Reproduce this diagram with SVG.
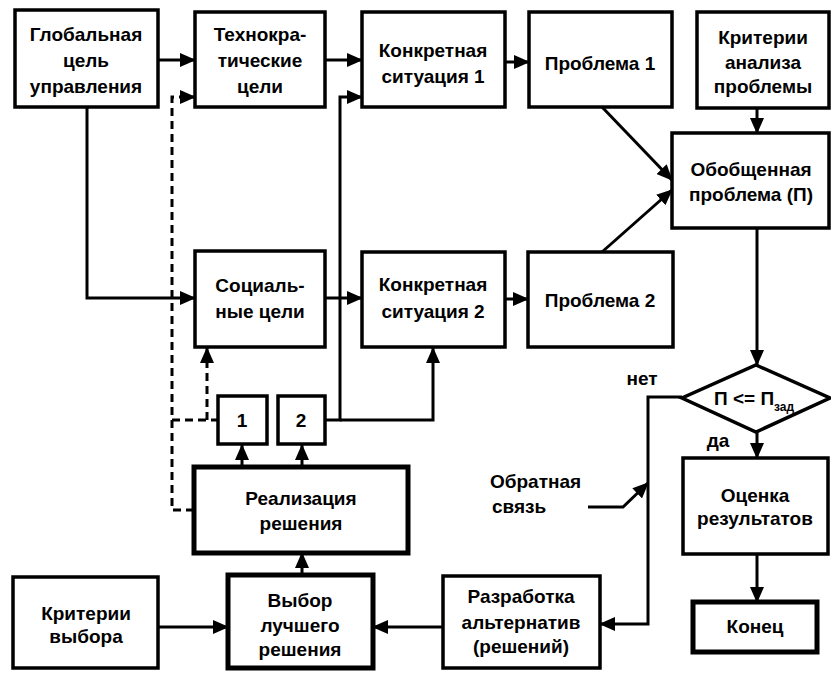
<svg xmlns="http://www.w3.org/2000/svg" width="831" height="673" viewBox="0 0 831 673">
<defs>
<marker id="ah" markerUnits="userSpaceOnUse" markerWidth="16" markerHeight="14" refX="15" refY="7" orient="auto">
<path d="M0,0 L16,7 L0,14 Z" fill="#000"/>
</marker>
<style>
.box{fill:#fff;stroke:#000;stroke-width:3.5}
.tbox{fill:#fff;stroke:#000;stroke-width:5}
.ln{fill:none;stroke:#000;stroke-width:3}
.ar{fill:none;stroke:#000;stroke-width:3;marker-end:url(#ah)}
.ds{fill:none;stroke:#000;stroke-width:3;stroke-dasharray:8 5}
.dsa{fill:none;stroke:#000;stroke-width:3;stroke-dasharray:8 5;marker-end:url(#ah)}
text{font-family:"Liberation Sans",Arial,sans-serif;font-weight:bold;font-size:19px;fill:#000;text-anchor:middle}
.l{text-anchor:start}
</style>
</defs>
<rect width="831" height="673" fill="#fff"/>
<g id="connectors">
<path class="ar" d="M158,60 H195"/>
<path class="ar" d="M325,60 H362"/>
<path class="ar" d="M505,62 H529"/>
<path class="ar" d="M757,108 V133"/>
<path class="ar" d="M602,107 L672,180"/>
<path class="ar" d="M602,252 L672,190"/>
<path class="ar" d="M87,107 V298 H195"/>
<path class="ar" d="M325,298 H362"/>
<path class="ar" d="M505,299 H528"/>
<path class="ar" d="M325,420 H340 V97 H362"/>
<path class="ar" d="M340,420 H433 V348"/>
<path class="dsa" d="M194,510 H172 V97 H195"/>
<path class="ds" d="M172,420 H218"/>
<path class="dsa" d="M207,420 V348"/>
<path class="ar" d="M242,467 V445"/>
<path class="ar" d="M302,467 V445"/>
<path class="ar" d="M302,575 V553"/>
<path class="ar" d="M158,627 H228"/>
<path class="ar" d="M443,627 H373"/>
<path class="ar" d="M757,228 V365"/>
<path class="ar" d="M682,397 H648 V624 H600"/>
<path class="ar" d="M588,507 H623 L648,483"/>
<path class="ar" d="M757,432 V458"/>
<path class="ar" d="M757,554 V602"/>
</g>
<g id="global"><rect class="box" x="15" y="10" width="143" height="97"/>
<text x="86" y="41">Глобальная</text><text x="86" y="67">цель</text><text x="86" y="93">управления</text></g>
<g id="techno"><rect class="box" x="195" y="12" width="130" height="95"/>
<text x="260" y="41">Технокра-</text><text x="260" y="67">тические</text><text x="260" y="93">цели</text></g>
<g id="konkr1"><rect class="box" x="362" y="12" width="143" height="95"/>
<text x="433" y="57">Конкретная</text><text x="433" y="83">ситуация 1</text></g>
<g id="problem1"><rect class="box" x="529" y="12" width="143" height="95"/>
<text x="600" y="70">Проблема 1</text></g>
<g id="kriterii-analiza"><rect class="box" x="697" y="12" width="132" height="96"/>
<text x="763" y="44">Критерии</text><text x="763" y="69">анализа</text><text x="763" y="93">проблемы</text></g>
<g id="obobshennaya"><rect class="box" x="672" y="133" width="157" height="95"/>
<text x="751" y="176">Обобщенная</text><text x="751" y="201">проблема (П)</text></g>
<g id="social"><rect class="box" x="195" y="251" width="130" height="96"/>
<text x="260" y="292">Социаль-</text><text x="260" y="318">ные цели</text></g>
<g id="konkr2"><rect class="box" x="362" y="252" width="143" height="95"/>
<text x="433" y="291">Конкретная</text><text x="433" y="318">ситуация 2</text></g>
<g id="problem2"><rect class="box" x="528" y="252" width="145" height="95"/>
<text x="600" y="307">Проблема 2</text></g>
<g id="box1"><rect class="box" x="218" y="396" width="49" height="48"/>
<text x="242" y="427">1</text></g>
<g id="box2"><rect class="box" x="278" y="396" width="47" height="48"/>
<text x="301" y="427">2</text></g>
<g id="realizaciya"><rect class="tbox" x="194" y="467" width="214" height="86"/>
<text x="301" y="505">Реализация</text><text x="301" y="530">решения</text></g>
<g id="kriterii-vybora"><rect class="box" x="13" y="577" width="145" height="91"/>
<text x="86" y="620">Критерии</text><text x="86" y="643">выбора</text></g>
<g id="vybor"><rect class="tbox" x="228" y="575" width="145" height="93"/>
<text x="300" y="607">Выбор</text><text x="300" y="632">лучшего</text><text x="300" y="656">решения</text></g>
<g id="razrabotka"><rect class="box" x="443" y="576" width="157" height="92"/>
<text x="521" y="603">Разработка</text><text x="521" y="629">альтернатив</text><text x="521" y="653">(решений)</text></g>
<g id="condition"><path class="box" d="M756,365 L830,398 L756,432 L682,398 Z"/>
<text class="l" x="714" y="405">П &lt;= П<tspan font-size="12" dy="6">зад</tspan></text></g>
<g id="ocenka"><rect class="box" x="683" y="458" width="145" height="96"/>
<text x="755" y="502">Оценка</text><text x="755" y="525">результатов</text></g>
<g id="konec"><rect class="tbox" x="693" y="602" width="124" height="50"/>
<text x="755" y="633">Конец</text></g>
<g id="labels">
<text x="642" y="385">нет</text>
<text x="718" y="447">да</text>
<text class="l" x="490" y="488">Обратная</text>
<text class="l" x="492" y="513">связь</text>
</g>
</svg>
